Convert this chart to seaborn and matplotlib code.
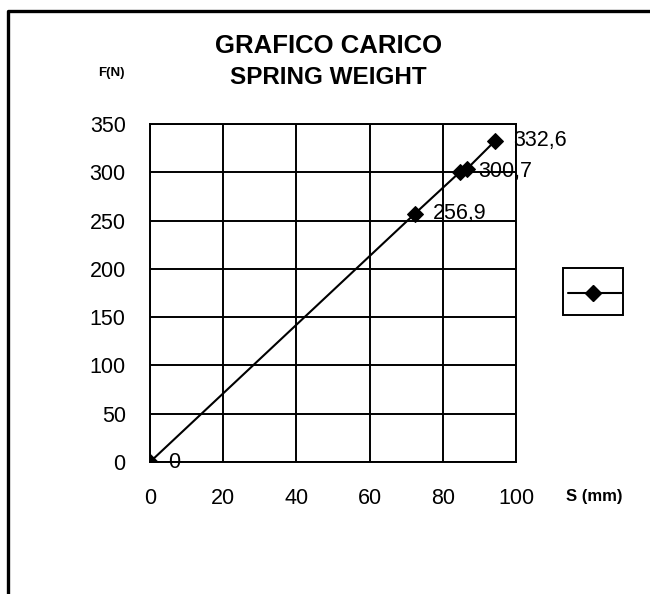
import matplotlib
matplotlib.use("Agg")
import matplotlib.pyplot as plt
import seaborn as sns
import pandas as pd
from matplotlib.lines import Line2D
from matplotlib.patches import Rectangle

# Data
s_mm = [0.0, 72.3, 84.8, 86.6, 94.3]
f_n = [0.0, 256.9, 300.7, 303.5, 332.6]
point_labels = ["0", "256,9", "300,7", "", "332,6"]
x_ticks = [0, 20, 40, 60, 80, 100]
y_ticks = [0, 50, 100, 150, 200, 250, 300, 350]
title_1 = "GRAFICO CARICO"
title_2 = "SPRING WEIGHT"
y_label = "F(N)"
x_label = "S (mm)"

sns.set_style("white")
plt.rcParams["font.family"] = ["Liberation Sans", "DejaVu Sans"]
plt.rcParams["text.color"] = "black"
plt.rcParams["xtick.color"] = "black"
plt.rcParams["ytick.color"] = "black"
plt.rcParams["axes.labelcolor"] = "black"

df = pd.DataFrame({"s": s_mm, "f": f_n})

W, H = 650, 594
fig = plt.figure(figsize=(6.5, 5.94), dpi=100)
ax = fig.add_axes([150 / W, 1 - 462 / H, 366 / W, 338 / H])

sns.lineplot(data=df, x="s", y="f", ax=ax, color="black", marker="D",
             markersize=8, markeredgecolor="black", linewidth=1.5,
             sort=False, label="_line", legend=False, zorder=5)

ax.set_xlim(0, 100)
ax.set_ylim(0, 350)
ax.set_xticks(x_ticks)
ax.set_yticks(y_ticks)
ax.set_xticklabels([str(v) for v in x_ticks], fontsize=15.5)
ax.set_yticklabels([str(v) for v in y_ticks], fontsize=15.5)
ax.set_xlabel("")
ax.set_ylabel("")
ax.grid(True, color="black", linewidth=1.4)
for sp in ax.spines.values():
    sp.set_visible(True)
    sp.set_color("black")
    sp.set_linewidth(1.4)
ax.tick_params(axis="both", direction="out", length=6, width=1.4,
               color="black", labelcolor="black")
ax.tick_params(axis="y", pad=11.5)
ax.tick_params(axis="x", pad=13)

for x, y, t in zip(s_mm, f_n, point_labels):
    if t:
        ax.annotate(t, (x, y), xytext=(13, 0), textcoords="offset points",
                    fontsize=15.5, ha="left", va="center", color="black",
                    zorder=6)

# Titles and axis names
fig.text(0.505, 1 - 46 / H, title_1, ha="center", va="center",
         fontsize=18.5, fontweight="bold")
fig.text(0.505, 1 - 78 / H, title_2, ha="center", va="center",
         fontsize=17.5, fontweight="bold")
fig.text(111 / W, 1 - 73 / H, y_label, ha="center", va="center",
         fontsize=9.5, fontweight="bold")
fig.text(594 / W, 1 - 497 / H, x_label, ha="center", va="center",
         fontsize=12, fontweight="bold")

# Legend (single unnamed series): frame plus sample line with marker
fig.add_artist(Rectangle((563 / W, 1 - 315 / H), 60 / W, 47 / H,
                         transform=fig.transFigure, facecolor="white",
                         edgecolor="black", linewidth=1.4))
fig.add_artist(Line2D([568 / W, 593 / W, 622 / W], [1 - 293 / H] * 3,
                      transform=fig.transFigure, color="black",
                      linewidth=1.5, marker="D", markersize=8,
                      markevery=[1]))

# Outer partial border
fig.add_artist(Line2D([8 / W, 8 / W, 1.0], [0.0, 1 - 11 / H, 1 - 11 / H],
                      transform=fig.transFigure, color="black", linewidth=2.4))

fig.savefig("out.png", dpi=100, facecolor="white")
